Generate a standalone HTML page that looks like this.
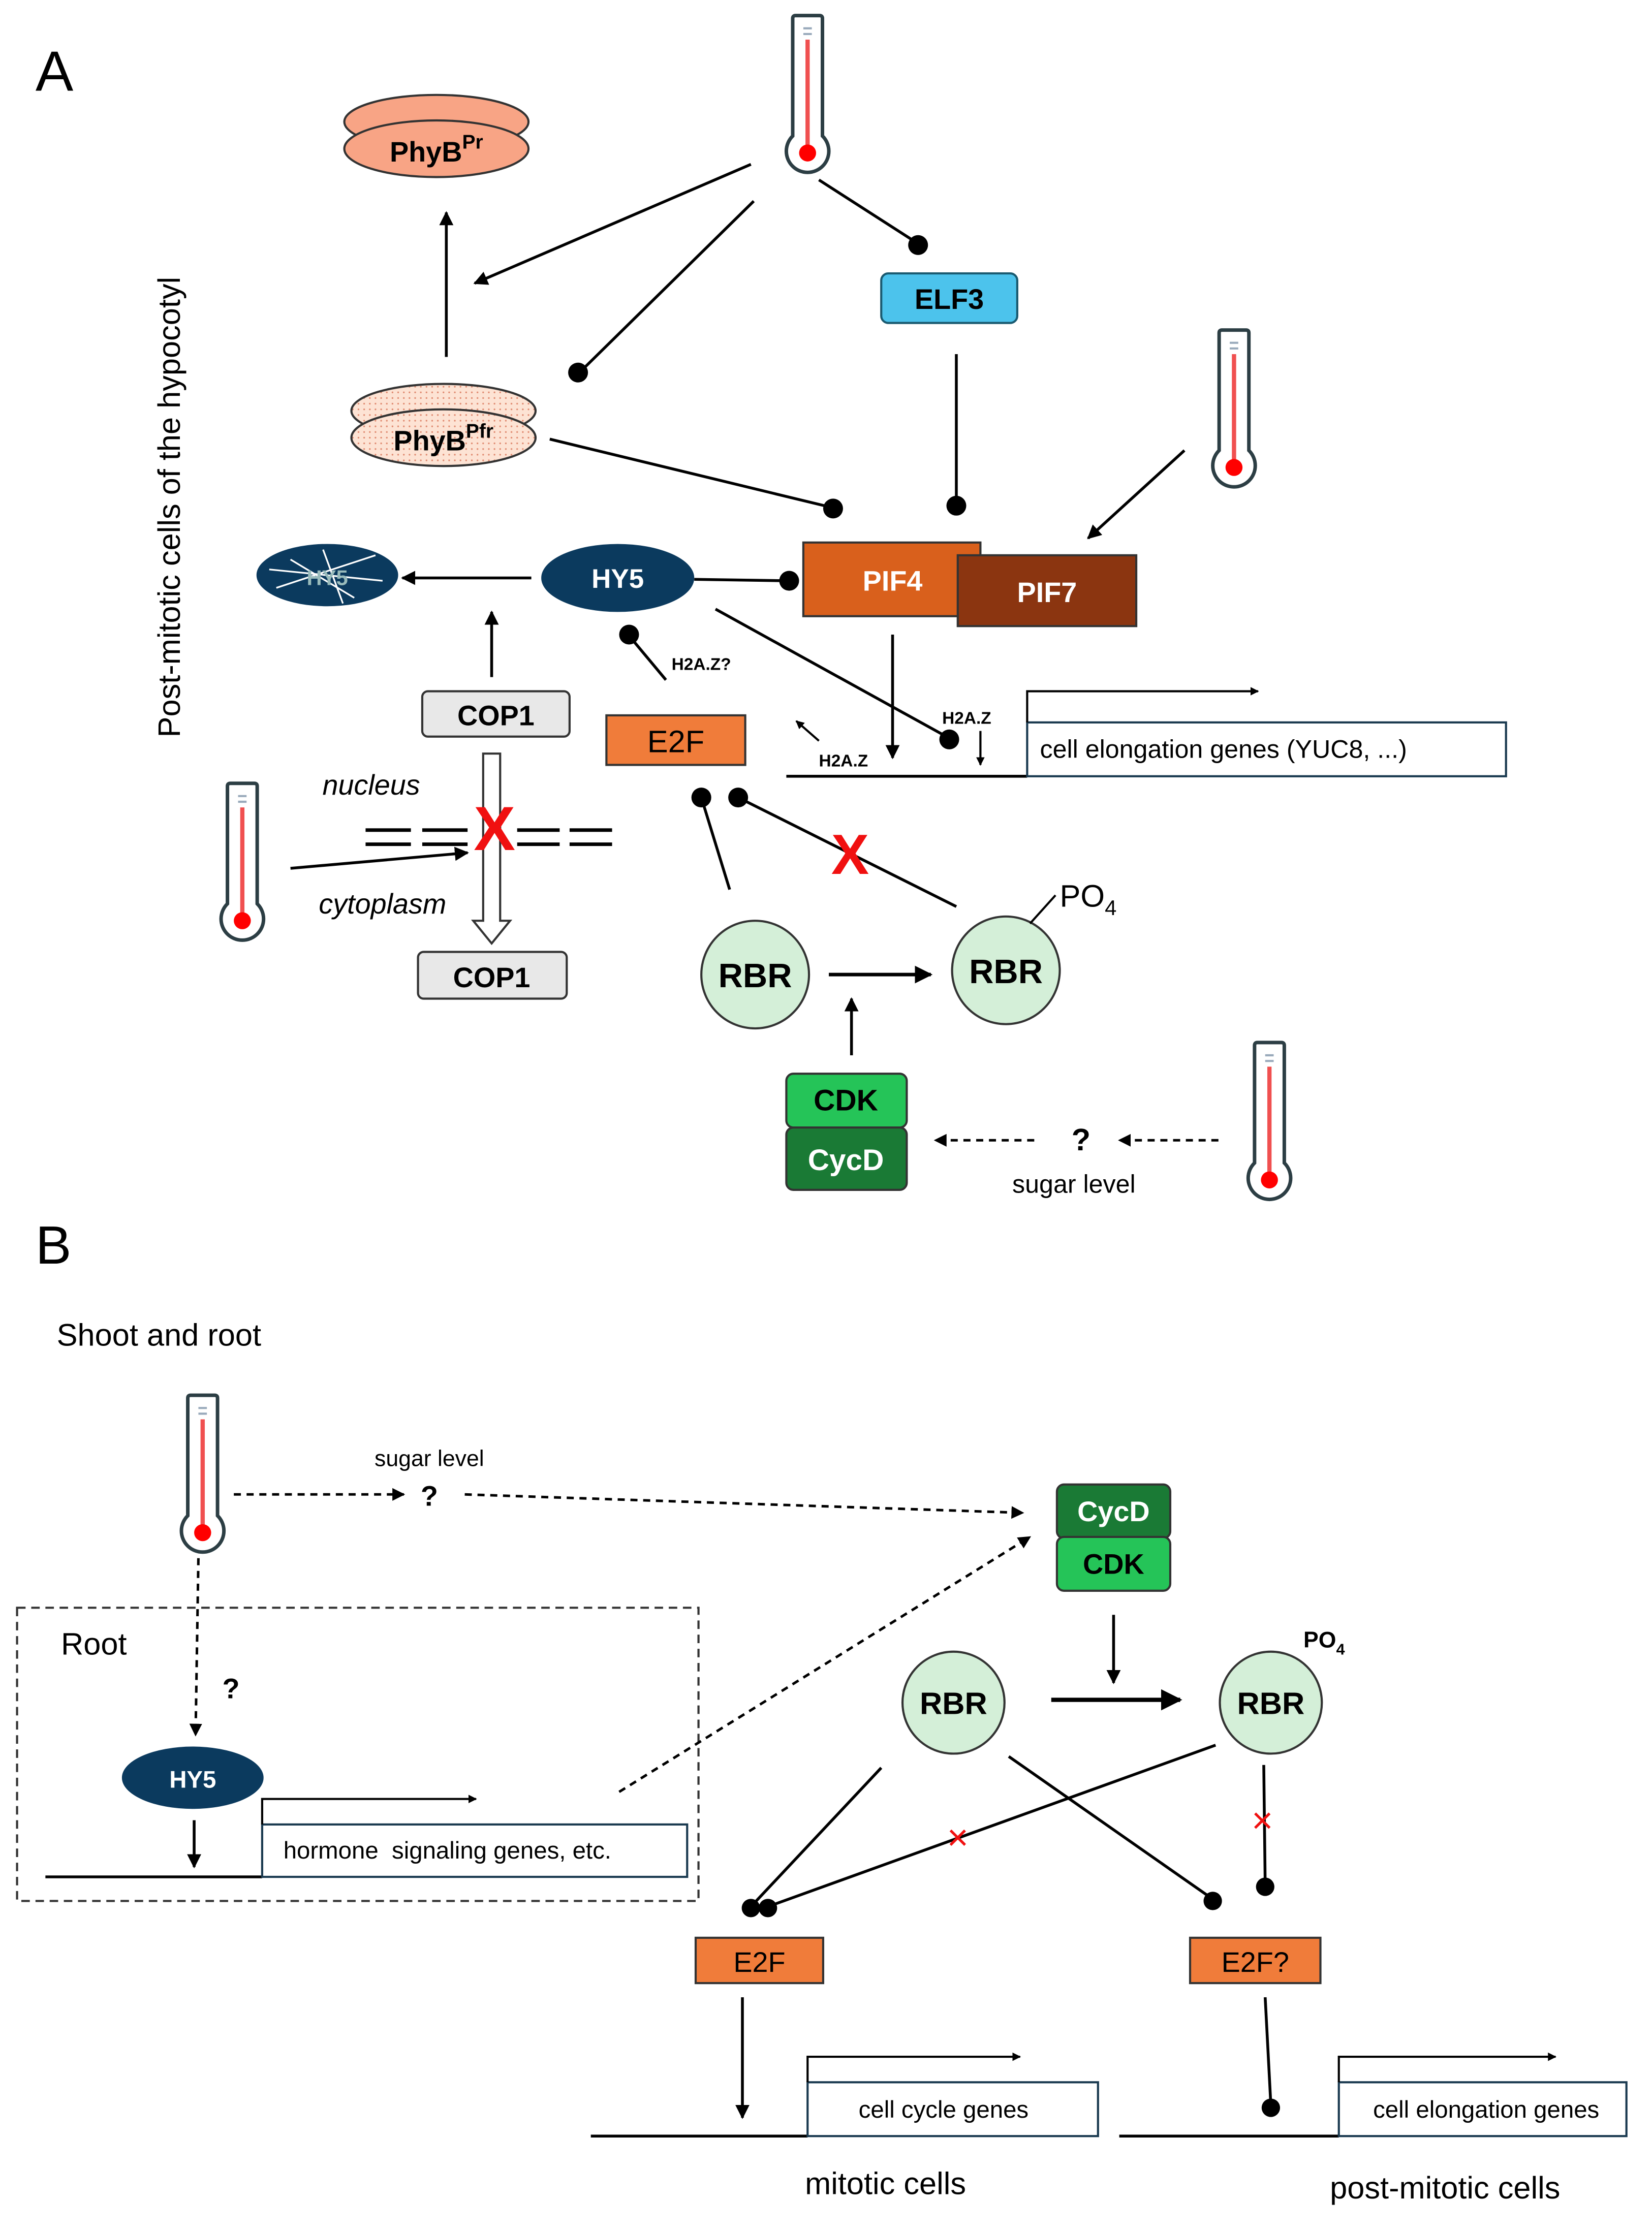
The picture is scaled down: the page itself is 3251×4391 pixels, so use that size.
<!DOCTYPE html>
<html><head><meta charset="utf-8"><style>
html,body{margin:0;padding:0;background:#fff}
svg{display:block}
text{font-family:"Liberation Sans",Arial,sans-serif}
</style></head><body>
<svg width="3251" height="4391" viewBox="0 0 1166 1575" xmlns="http://www.w3.org/2000/svg">
<defs>
<marker id="ar" viewBox="0 0 10 10" refX="9" refY="5" markerWidth="5" markerHeight="5" orient="auto"><path d="M0,0 L10,5 L0,10 z" fill="#000"/></marker>
<marker id="ars" viewBox="0 0 10 10" refX="9" refY="5" markerWidth="4" markerHeight="4" orient="auto"><path d="M0,0 L10,5 L0,10 z" fill="#000"/></marker>
<g id="th">
<path d="M-10.5,-12 L-10.5,-95 Q-10.5,-97 -8.5,-97 L8.5,-97 Q10.5,-97 10.5,-95 L10.5,-12 A15,15 0 1 1 -10.5,-12 Z" fill="#fff" stroke="#2c3e44" stroke-width="2.5"/>
<line x1="0" y1="-80" x2="0" y2="-5" stroke="#f05050" stroke-width="3"/>
<line x1="-3" y1="-88" x2="3" y2="-88" stroke="#9ab" stroke-width="1.5"/>
<line x1="-3" y1="-84" x2="3" y2="-84" stroke="#9ab" stroke-width="1.5"/>
<circle cx="0" cy="0" r="6" fill="#f00"/>
</g>
<pattern id="dots" width="4" height="4" patternUnits="userSpaceOnUse"><rect width="4" height="4" fill="#fde3d4"/><circle cx="1" cy="1" r="0.6" fill="#e08a70"/></pattern>
</defs>

<text x="25" y="64" font-size="40">A</text>
<text transform="translate(127,358) rotate(-90)" font-size="22" text-anchor="middle">Post-mitotic cells of the hypocotyl</text>

<use href="#th" x="570" y="108"/>
<use href="#th" x="871" y="330"/>
<use href="#th" x="171" y="650"/>
<use href="#th" x="896" y="833"/>
<use href="#th" x="143" y="1082"/>

<ellipse cx="308" cy="86" rx="65" ry="19" fill="#f8a485" stroke="#333" stroke-width="1.5"/>
<ellipse cx="308" cy="105" rx="65" ry="20" fill="#f8a485" stroke="#333" stroke-width="1.5"/>
<text x="308" y="114" font-size="20" font-weight="bold" text-anchor="middle">PhyB<tspan font-size="14" dy="-9">Pr</tspan></text>
<ellipse cx="313" cy="290" rx="65" ry="19" fill="url(#dots)" stroke="#333" stroke-width="1.5"/>
<ellipse cx="313" cy="309" rx="65" ry="20" fill="url(#dots)" stroke="#333" stroke-width="1.5"/>
<text x="313" y="318" font-size="20" font-weight="bold" text-anchor="middle">PhyB<tspan font-size="14" dy="-9">Pfr</tspan></text>
<line x1="315" y1="252" x2="315" y2="150" stroke="#000" stroke-width="2" marker-end="url(#ar)"/>

<line x1="530" y1="116" x2="335" y2="200" stroke="#000" stroke-width="2" marker-end="url(#ar)"/>
<line x1="532" y1="142" x2="410" y2="262" stroke="#000" stroke-width="2"/><circle cx="408" cy="263" r="7"/>
<line x1="578" y1="127" x2="648" y2="172" stroke="#000" stroke-width="2"/><circle cx="648" cy="173" r="7"/>

<rect x="622" y="193" width="96" height="35" rx="5" fill="#4cc3ec" stroke="#1a5a70" stroke-width="1.5"/>
<text x="670" y="218" font-size="20" font-weight="bold" text-anchor="middle">ELF3</text>
<line x1="675" y1="250" x2="675" y2="355" stroke="#000" stroke-width="2"/><circle cx="675" cy="357" r="7"/>

<line x1="388" y1="310" x2="586" y2="358" stroke="#000" stroke-width="2"/><circle cx="588" cy="359" r="7"/>
<line x1="836" y1="318" x2="768" y2="380" stroke="#000" stroke-width="2" marker-end="url(#ar)"/>

<rect x="567" y="383" width="125" height="52" fill="#d9601c" stroke="#333" stroke-width="1.5"/>
<text x="630" y="417" font-size="20" font-weight="bold" fill="#fff" text-anchor="middle">PIF4</text>
<rect x="676" y="392" width="126" height="50" fill="#8b3510" stroke="#333" stroke-width="1.5"/>
<text x="739" y="425" font-size="20" font-weight="bold" fill="#fff" text-anchor="middle">PIF7</text>

<ellipse cx="436" cy="408" rx="54" ry="24" fill="#0b3a5e"/>
<text x="436" y="415" font-size="19" font-weight="bold" fill="#fff" text-anchor="middle">HY5</text>
<line x1="490" y1="409" x2="556" y2="410" stroke="#000" stroke-width="2"/><circle cx="557" cy="410" r="7"/>
<ellipse cx="231" cy="406" rx="50" ry="22" fill="#0b3a5e"/>
<g stroke="#fff" stroke-width="1.2"><line x1="195" y1="415" x2="265" y2="392"/><line x1="205" y1="395" x2="250" y2="422"/><line x1="228" y1="388" x2="242" y2="426"/><line x1="190" y1="402" x2="270" y2="410"/></g>
<text x="231" y="413" font-size="15" font-weight="bold" fill="#9bb" text-anchor="middle">HY5</text>
<line x1="375" y1="408" x2="284" y2="408" stroke="#000" stroke-width="2" marker-end="url(#ar)"/>

<line x1="505" y1="430" x2="668" y2="520" stroke="#000" stroke-width="2"/><circle cx="670" cy="522" r="7"/>
<line x1="470" y1="480" x2="445" y2="450" stroke="#000" stroke-width="2"/><circle cx="444" cy="448" r="7"/>
<text x="474" y="473" font-size="12" font-weight="bold">H2A.Z?</text>

<rect x="298" y="488" width="104" height="32" rx="4" fill="#e8e8e8" stroke="#333" stroke-width="1.5"/>
<text x="350" y="512" font-size="20" font-weight="bold" text-anchor="middle">COP1</text>
<line x1="347" y1="478" x2="347" y2="432" stroke="#000" stroke-width="2" marker-end="url(#ar)"/>

<rect x="428" y="505" width="98" height="35" fill="#f07c3a" stroke="#333" stroke-width="1.5"/>
<text x="477" y="531" font-size="22" text-anchor="middle">E2F</text>

<line x1="630" y1="448" x2="630" y2="535" stroke="#000" stroke-width="2" marker-end="url(#ar)"/>
<line x1="578" y1="523" x2="562" y2="509" stroke="#000" stroke-width="1.5" marker-end="url(#ars)"/>
<text x="578" y="541" font-size="12" font-weight="bold">H2A.Z</text>
<text x="665" y="511" font-size="12" font-weight="bold">H2A.Z</text>
<line x1="692" y1="516" x2="692" y2="540" stroke="#000" stroke-width="1.5" marker-end="url(#ars)"/>

<line x1="555" y1="548" x2="725" y2="548" stroke="#000" stroke-width="2"/>
<rect x="725" y="510" width="338" height="38" fill="#fff" stroke="#1a3a50" stroke-width="1.5"/>
<text x="734" y="535" font-size="18">cell elongation genes (YUC8, ...)</text>
<polyline points="725,510 725,488 888,488" fill="none" stroke="#000" stroke-width="1.5" marker-end="url(#ars)"/>

<text x="262" y="561" font-size="20" font-style="italic" text-anchor="middle">nucleus</text>
<g stroke="#000" stroke-width="2.5">
<line x1="258" y1="586" x2="290" y2="586"/><line x1="258" y1="596" x2="290" y2="596"/>
<line x1="298" y1="586" x2="330" y2="586"/><line x1="298" y1="596" x2="330" y2="596"/>
<line x1="365" y1="586" x2="395" y2="586"/><line x1="365" y1="596" x2="395" y2="596"/>
<line x1="402" y1="586" x2="432" y2="586"/><line x1="402" y1="596" x2="432" y2="596"/>
</g>
<path d="M341,532 L353,532 L353,650 L360,650 L347,666 L334,650 L341,650 Z" fill="#fff" stroke="#333" stroke-width="1.5"/>
<text x="349" y="600" font-size="44" font-weight="bold" fill="#f01010" text-anchor="middle">X</text>
<text x="270" y="645" font-size="20" font-style="italic" text-anchor="middle">cytoplasm</text>
<line x1="205" y1="613" x2="330" y2="602" stroke="#000" stroke-width="2" marker-end="url(#ar)"/>
<rect x="295" y="672" width="105" height="33" rx="4" fill="#e8e8e8" stroke="#333" stroke-width="1.5"/>
<text x="347" y="697" font-size="20" font-weight="bold" text-anchor="middle">COP1</text>

<circle cx="495" cy="563" r="7"/><circle cx="521" cy="563" r="7"/>
<line x1="495" y1="563" x2="515" y2="628" stroke="#000" stroke-width="2"/>
<line x1="521" y1="563" x2="675" y2="640" stroke="#000" stroke-width="2"/>
<text x="600" y="617" font-size="40" font-weight="bold" fill="#f01010" text-anchor="middle">X</text>

<circle cx="533" cy="688" r="38" fill="#d4efd8" stroke="#333" stroke-width="1.5"/>
<text x="533" y="697" font-size="24" font-weight="bold" text-anchor="middle">RBR</text>
<line x1="585" y1="688" x2="657" y2="688" stroke="#000" stroke-width="2.5" marker-end="url(#ar)"/>
<circle cx="710" cy="685" r="38" fill="#d4efd8" stroke="#333" stroke-width="1.5"/>
<text x="710" y="694" font-size="24" font-weight="bold" text-anchor="middle">RBR</text>
<line x1="727" y1="652" x2="745" y2="632" stroke="#000" stroke-width="1.5"/>
<text x="748" y="640" font-size="22">PO<tspan font-size="15" dy="6">4</tspan></text>
<line x1="601" y1="745" x2="601" y2="705" stroke="#000" stroke-width="2" marker-end="url(#ar)"/>

<rect x="555" y="758" width="85" height="38" rx="5" fill="#25c458" stroke="#333" stroke-width="1.5"/>
<text x="597" y="784" font-size="21" font-weight="bold" text-anchor="middle">CDK</text>
<rect x="555" y="796" width="85" height="44" rx="5" fill="#1a7a35" stroke="#333" stroke-width="1.5"/>
<text x="597" y="826" font-size="21" font-weight="bold" fill="#fff" text-anchor="middle">CycD</text>
<line x1="730" y1="805" x2="660" y2="805" stroke="#000" stroke-width="1.8" stroke-dasharray="5,4" marker-end="url(#ar)"/>
<text x="763" y="812" font-size="22" font-weight="bold" text-anchor="middle">?</text>
<line x1="860" y1="805" x2="790" y2="805" stroke="#000" stroke-width="1.8" stroke-dasharray="5,4" marker-end="url(#ar)"/>
<text x="758" y="842" font-size="18" text-anchor="middle">sugar level</text>

<text x="25" y="892" font-size="38">B</text>
<text x="40" y="950" font-size="22">Shoot and root</text>
<line x1="165" y1="1055" x2="285" y2="1055" stroke="#000" stroke-width="1.8" stroke-dasharray="5,4" marker-end="url(#ar)"/>
<text x="303" y="1035" font-size="16" text-anchor="middle">sugar level</text>
<text x="303" y="1063" font-size="20" font-weight="bold" text-anchor="middle">?</text>
<line x1="328" y1="1055" x2="722" y2="1068" stroke="#000" stroke-width="1.8" stroke-dasharray="5,4" marker-end="url(#ar)"/>

<rect x="746" y="1048" width="80" height="38" rx="5" fill="#1a7a35" stroke="#333" stroke-width="1.5"/>
<text x="786" y="1074" font-size="20" font-weight="bold" fill="#fff" text-anchor="middle">CycD</text>
<rect x="746" y="1085" width="80" height="38" rx="5" fill="#25c458" stroke="#333" stroke-width="1.5"/>
<text x="786" y="1111" font-size="20" font-weight="bold" text-anchor="middle">CDK</text>
<line x1="786" y1="1140" x2="786" y2="1188" stroke="#000" stroke-width="2" marker-end="url(#ar)"/>

<rect x="12" y="1135" width="481" height="207" fill="none" stroke="#333" stroke-width="1.5" stroke-dasharray="6,4"/>
<text x="43" y="1168" font-size="22">Root</text>
<line x1="140" y1="1100" x2="138" y2="1225" stroke="#000" stroke-width="1.8" stroke-dasharray="5,4" marker-end="url(#ar)"/>
<text x="163" y="1199" font-size="20" font-weight="bold" text-anchor="middle">?</text>
<ellipse cx="136" cy="1255" rx="50" ry="22" fill="#0b3a5e"/>
<text x="136" y="1262" font-size="17" font-weight="bold" fill="#fff" text-anchor="middle">HY5</text>
<line x1="137" y1="1285" x2="137" y2="1318" stroke="#000" stroke-width="2" marker-end="url(#ar)"/>
<line x1="32" y1="1325" x2="185" y2="1325" stroke="#000" stroke-width="2"/>
<rect x="185" y="1288" width="300" height="37" fill="#fff" stroke="#1a3a50" stroke-width="1.5"/>
<text x="200" y="1312" font-size="17" xml:space="preserve">hormone  signaling genes, etc.</text>
<polyline points="185,1288 185,1270 336,1270" fill="none" stroke="#000" stroke-width="1.5" marker-end="url(#ars)"/>
<line x1="437" y1="1265" x2="727" y2="1085" stroke="#000" stroke-width="1.8" stroke-dasharray="5,4" marker-end="url(#ar)"/>

<circle cx="673" cy="1202" r="36" fill="#d4efd8" stroke="#333" stroke-width="1.5"/>
<text x="673" y="1210" font-size="22" font-weight="bold" text-anchor="middle">RBR</text>
<line x1="742" y1="1200" x2="833" y2="1200" stroke="#000" stroke-width="3" marker-end="url(#ar)"/>
<circle cx="897" cy="1202" r="36" fill="#d4efd8" stroke="#333" stroke-width="1.5"/>
<text x="897" y="1210" font-size="22" font-weight="bold" text-anchor="middle">RBR</text>
<text x="920" y="1163" font-size="16" font-weight="bold">PO<tspan font-size="11" dy="5">4</tspan></text>

<line x1="622" y1="1248" x2="530" y2="1346" stroke="#000" stroke-width="2"/><circle cx="530" cy="1347" r="6.5"/>
<line x1="858" y1="1232" x2="542" y2="1346" stroke="#000" stroke-width="2"/><circle cx="542" cy="1347" r="6.5"/>
<text x="676" y="1306" font-size="26" fill="#f01010" text-anchor="middle">×</text>
<line x1="712" y1="1240" x2="855" y2="1340" stroke="#000" stroke-width="2"/><circle cx="856" cy="1342" r="6.5"/>
<line x1="892" y1="1246" x2="893" y2="1330" stroke="#000" stroke-width="2"/><circle cx="893" cy="1332" r="6.5"/>
<text x="891" y="1294" font-size="26" fill="#f01010" text-anchor="middle">×</text>

<rect x="491" y="1368" width="90" height="32" fill="#f07c3a" stroke="#333" stroke-width="1.5"/>
<text x="536" y="1392" font-size="20" text-anchor="middle">E2F</text>
<rect x="840" y="1368" width="92" height="32" fill="#f07c3a" stroke="#333" stroke-width="1.5"/>
<text x="886" y="1392" font-size="20" text-anchor="middle">E2F?</text>

<line x1="524" y1="1410" x2="524" y2="1495" stroke="#000" stroke-width="2" marker-end="url(#ar)"/>
<line x1="417" y1="1508" x2="570" y2="1508" stroke="#000" stroke-width="2"/>
<rect x="570" y="1470" width="205" height="38" fill="#fff" stroke="#1a3a50" stroke-width="1.5"/>
<text x="666" y="1495" font-size="17" text-anchor="middle">cell cycle genes</text>
<polyline points="570,1470 570,1452 720,1452" fill="none" stroke="#000" stroke-width="1.5" marker-end="url(#ars)"/>

<line x1="893" y1="1410" x2="897" y2="1486" stroke="#000" stroke-width="2"/><circle cx="897" cy="1488" r="6.5"/>
<line x1="790" y1="1508" x2="945" y2="1508" stroke="#000" stroke-width="2"/>
<rect x="945" y="1470" width="203" height="38" fill="#fff" stroke="#1a3a50" stroke-width="1.5"/>
<text x="1049" y="1495" font-size="17" text-anchor="middle">cell elongation genes</text>
<polyline points="945,1470 945,1452 1098,1452" fill="none" stroke="#000" stroke-width="1.5" marker-end="url(#ars)"/>

<text x="625" y="1549" font-size="22" text-anchor="middle">mitotic cells</text>
<text x="1020" y="1552" font-size="22" text-anchor="middle">post-mitotic cells</text>
</svg>
</body></html>
